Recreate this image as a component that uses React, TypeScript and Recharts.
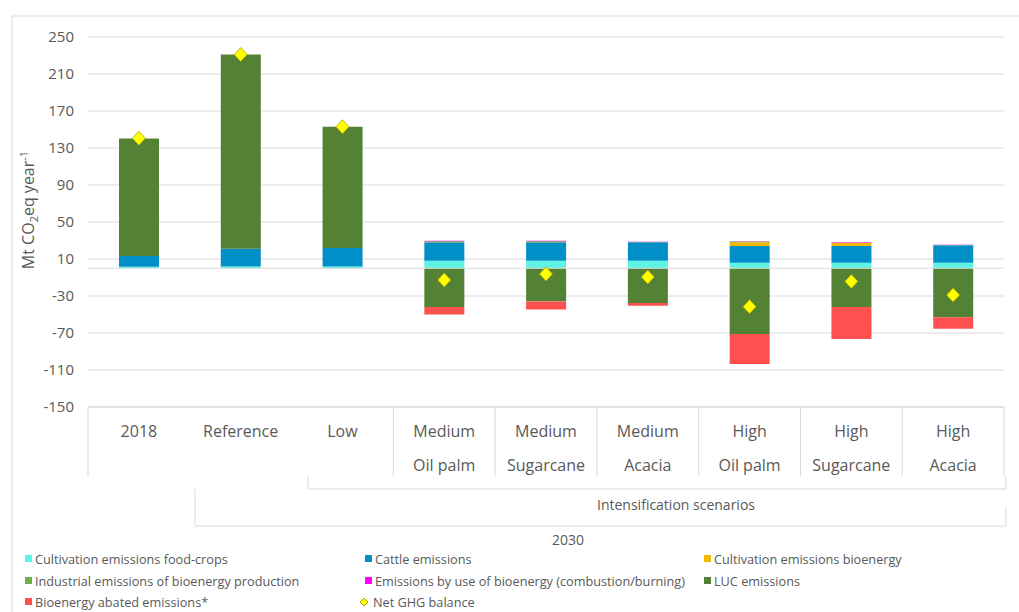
import { Bar, CartesianGrid, ComposedChart, ReferenceLine, Scatter, XAxis, YAxis } from "recharts";

// category labels (two levels)
const scenarioLabels = ["2018", "Reference", "Low", "Medium", "Medium", "Medium", "High", "High", "High"];
const cropLabels = ["", "", "", "Oil palm", "Sugarcane", "Acacia", "Oil palm", "Sugarcane", "Acacia"];

// Mt CO2eq per year
const foodCrops = [1.5, 2, 2, 8, 8, 8, 6, 6, 6];
const cattle = [11.7, 19, 20, 20, 20, 20, 18, 18, 19];
const cultivationBioenergy = [0, 0, 0, 0.5, 0.5, 0, 4, 3.5, 0];
const industrialBioenergy = [0, 0, 0, 0.8, 0.8, 0.3, 0.8, 0.3, 0.2];
const bioenergyUse = [0, 0, 0, 0.4, 0.4, 0.3, 0.4, 0.5, 0.3];
const lucEmissions = [127, 210, 131, -42, -36, -37.5, -71, -42, -53];
const abatedEmissions = [0, 0, 0, -8, -8.5, -3, -32.5, -34.5, -12.5];
const netBalance = [140.5, 231, 153, -12.7, -6.2, -9.5, -41.5, -14.2, -29];

const yTicks = [-150, -110, -70, -30, 10, 50, 90, 130, 170, 210, 250];

const series = [
  { key: "foodCrops", name: "Cultivation emissions food-crops", color: "#5ff3e3" },
  { key: "cattle", name: "Cattle emissions", color: "#008fc7" },
  { key: "cultivationBioenergy", name: "Cultivation emissions bioenergy", color: "#f5b800" },
  { key: "industrialBioenergy", name: "Industrial emissions of bioenergy production", color: "#70ad47" },
  { key: "bioenergyUse", name: "Emissions by use of bioenergy (combustion/burning)", color: "#ff00ff" },
  { key: "luc", name: "LUC emissions", color: "#548235" },
  { key: "abated", name: "Bioenergy abated emissions*", color: "#ff5050" },
];

const data = scenarioLabels.map((scenario, i) => ({
  name: `${scenario} ${cropLabels[i]}`.trim(),
  scenario,
  crop: cropLabels[i],
  foodCrops: foodCrops[i],
  cattle: cattle[i],
  cultivationBioenergy: cultivationBioenergy[i],
  industrialBioenergy: industrialBioenergy[i],
  bioenergyUse: bioenergyUse[i],
  luc: lucEmissions[i],
  abated: abatedEmissions[i],
  net: netBalance[i],
}));

const W = 1019;
const H = 612;
const PLOT_LEFT = 88;
const PLOT_RIGHT = 1004;
const PLOT_TOP = 37;
const PLOT_BOTTOM = 407;
const BAND = (PLOT_RIGHT - PLOT_LEFT) / data.length;
const GRID = "#d9d9d9";
const TEXT = "#595959";
const FONT = "'Open Sans', sans-serif";

function CategoryTick(props: any) {
  const { x, y, index } = props;
  const d = data[index];
  const left = x - BAND / 2;
  const right = x + BAND / 2;
  return (
    <g>
      {(index === 0 || index >= 3) && <line x1={left} x2={left} y1={y} y2={y + 69} stroke={GRID} />}
      {index === data.length - 1 && <line x1={right} x2={right} y1={y} y2={y + 69} stroke={GRID} />}
      <text x={x} y={y + 30} textAnchor="middle" fontSize={16} fill={TEXT} fontFamily={FONT}>
        {d.scenario}
      </text>
      {d.crop && (
        <text x={x} y={y + 64} textAnchor="middle" fontSize={16} fill={TEXT} fontFamily={FONT}>
          {d.crop}
        </text>
      )}
    </g>
  );
}

function Diamond(props: any) {
  const { cx, cy } = props;
  if (cx == null || cy == null) return null;
  return (
    <polygon
      points={`${cx},${cy - 7} ${cx + 6.5},${cy} ${cx},${cy + 7} ${cx - 6.5},${cy}`}
      fill="#ffff00"
      stroke="#b5a300"
      strokeWidth={0.8}
    />
  );
}

const legendCols = [18, 358, 697];
const legendRows = [559, 581, 602];

export default function App() {
  return (
    <div style={{ position: "absolute", left: 0, top: 0, width: W, height: H, background: "#fff", overflow: "hidden" }}>
      <ComposedChart
        width={W}
        height={H}
        data={data}
        stackOffset="sign"
        margin={{ top: PLOT_TOP, right: W - PLOT_RIGHT, bottom: H - PLOT_BOTTOM - 80, left: PLOT_LEFT - 60 }}
      >
        <CartesianGrid vertical={false} stroke={GRID} />
        <XAxis
          dataKey="name"
          height={80}
          interval={0}
          tickLine={false}
          tickSize={0}
          tickMargin={0}
          axisLine={{ stroke: GRID }}
          tick={<CategoryTick />}
        />
        <YAxis
          width={60}
          domain={[-150, 250]}
          ticks={yTicks}
          tickLine={false}
          axisLine={false}
          tickSize={0}
          tickMargin={14}
          tick={{ fontSize: 15, fill: TEXT, fontFamily: FONT }}
        />
        <ReferenceLine y={0} stroke={GRID} />
        {series.map((s) => (
          <Bar key={s.key} dataKey={s.key} name={s.name} stackId="a" fill={s.color} barSize={40} isAnimationActive={false} />
        ))}
        <Scatter dataKey="net" name="Net GHG balance" shape={<Diamond />} isAnimationActive={false} />
      </ComposedChart>

      <svg width={W} height={H} style={{ position: "absolute", left: 0, top: 0, pointerEvents: "none" }}>
        <line x1={12} x2={W} y1={16} y2={16} stroke={GRID} />
        <line x1={12} x2={12} y1={16} y2={H} stroke={GRID} />
        <text
          transform="rotate(-90 34 210)"
          x={34}
          y={210}
          textAnchor="middle"
          fontSize={16}
          fill={TEXT}
          fontFamily={FONT}
        >
          Mt CO<tspan dy={4} fontSize={11}>2</tspan>
          <tspan dy={-4}>eq year</tspan>
          <tspan dy={-6} fontSize={11}>-1</tspan>
        </text>
        {/* group brackets */}
        <polyline points={`308,476 308,489 1006,489 1006,476`} fill="none" stroke={GRID} />
        <polyline points={`195,489 195,526 1006,526 1006,507`} fill="none" stroke={GRID} />
        <text x={676} y={510} textAnchor="middle" fontSize={14} fill={TEXT} fontFamily={FONT}>
          Intensification scenarios
        </text>
        <text x={568} y={545} textAnchor="middle" fontSize={14} fill={TEXT} fontFamily={FONT}>
          2030
        </text>
        {/* legend */}
        {series.map((s, i) => {
          const lx = legendCols[i % 3];
          const ly = legendRows[Math.floor(i / 3)];
          return (
            <g key={s.key}>
              <rect x={lx + 7} y={ly - 4} width={7} height={7} fill={s.color} />
              <text x={lx + 17} y={ly + 4.5} fontSize={12.7} fill={TEXT} fontFamily={FONT}>
                {s.name}
              </text>
            </g>
          );
        })}
        <g>
          <polygon
            points={`${legendCols[1] + 6},${legendRows[2] - 4} ${legendCols[1] + 10},${legendRows[2]} ${legendCols[1] + 6},${legendRows[2] + 4} ${legendCols[1] + 2},${legendRows[2]}`}
            fill="#ffff00"
            stroke="#b5a300"
          />
          <text x={legendCols[1] + 15} y={legendRows[2] + 4.5} fontSize={12.7} fill={TEXT} fontFamily={FONT}>
            Net GHG balance
          </text>
        </g>
      </svg>
    </div>
  );
}
